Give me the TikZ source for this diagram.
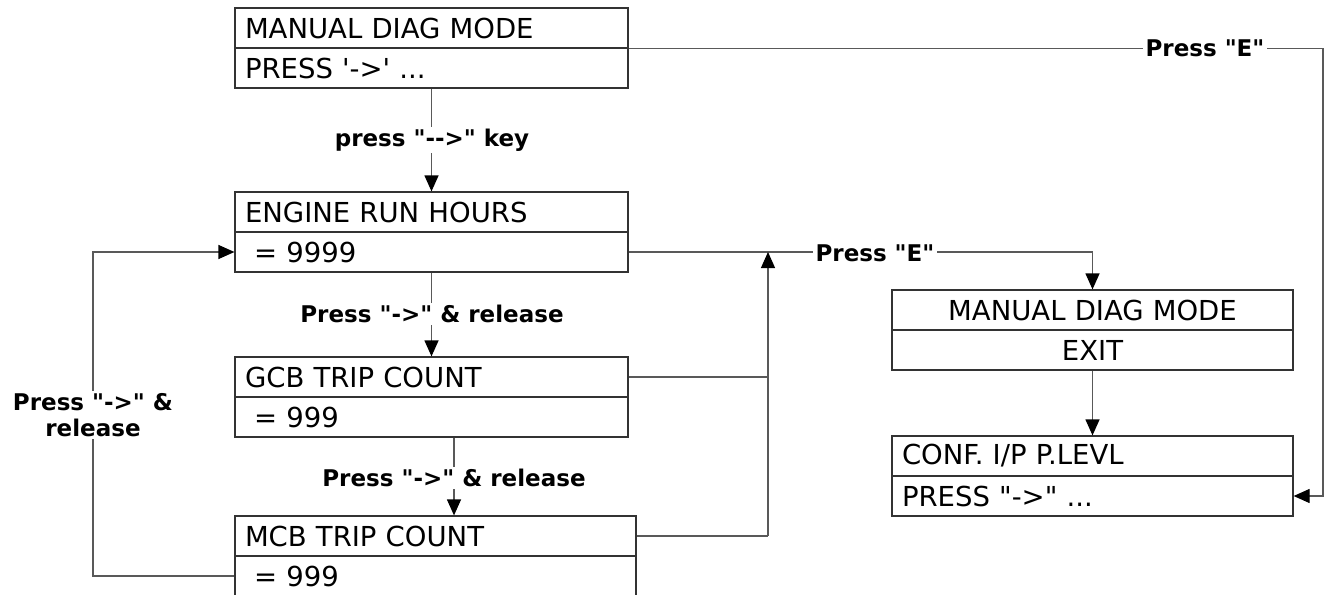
\documentclass[tikz,border=0pt]{standalone}
\usepackage{fontspec}
\newfontfamily\dv{DejaVu Sans}
\usetikzlibrary{arrows.meta}
\begin{document}
\begin{tikzpicture}[x=1pt,y=-1pt,
  row/.style={draw=black!80, line width=1.2pt, minimum height=40pt,
    inner ysep=0pt, inner xsep=10pt, text width=373pt, align=left,
    font=\dv\fontsize{27.5}{30}\selectfont},
  wide/.style={text width=381pt},
  mid/.style={align=center},
  lbl/.style={fill=white, inner xsep=3pt, inner ysep=2pt, align=center,
    font=\dv\bfseries\fontsize{23}{26}\selectfont},
  link/.style={draw=black!65, line width=1.2pt},
  arr/.style={link, -{Triangle[length=16pt,width=14pt,color=black]}}]

\useasboundingbox (0,0) rectangle (1327,594);
\clip (0,0) rectangle (1327,594);

% display boxes, two rows each
\node[row] (b1t) at (431.5,28) {MANUAL DIAG MODE};
\node[row] (b1b) at (431.5,68) {PRESS '->' ...};
\node[row] (b2t) at (431.5,212) {ENGINE RUN HOURS};
\node[row] (b2b) at (431.5,252) {\ = 9999};
\node[row] (b3t) at (431.5,377) {GCB TRIP COUNT};
\node[row] (b3b) at (431.5,417) {\ = 999};
\node[row,wide] (b4t) at (435.5,536) {MCB TRIP COUNT};
\node[row,wide] (b4b) at (435.5,576) {\ = 999};
\node[row,wide,mid] (b5t) at (1092.5,310) {MANUAL DIAG MODE};
\node[row,wide,mid] (b5b) at (1092.5,350) {EXIT};
\node[row,wide] (b6t) at (1092.5,456) {CONF. I/P P.LEVL};
\node[row,wide] (b6b) at (1092.5,496) {PRESS "->" ...};

% helper coordinates for line positions
\coordinate (c34) at (454,0);
\coordinate (cl) at (93,0);
\coordinate (bus) at (768,0);
\coordinate (rr) at (1323,0);

% main sequence
\draw[arr] (b1b.south) -- (b2t.north);
\draw[arr] (b2b.south) -- (b3t.north);
\draw[arr] (b3b.south -| c34) -- (b4t.north -| c34);
\draw[arr] (b5b.south) -- (b6t.north);

% loop back from the last counter
\draw[arr] (b4b.west) -- (b4b.west -| cl) -- (b2b.west -| cl) -- (b2b.west);

% exit paths
\draw[arr] (b2b.east) -- (b2b.east -| b5t.north) -- (b5t.north);
\draw[link] (b3t.east) -- (b3t.east -| bus);
\draw[link] (b4t.east) -- (b4t.east -| bus);
\draw[arr] (b4t.east -| bus) -- (b2b.east -| bus);
\draw[arr] (b1t.south east) -- (b1t.south east -| rr) -- (b6b.east -| rr) -- (b6b.east);

% labels
\node[lbl] (l1) at (432,140) {press "-->" key};
\node[lbl] (l2) at (432,314) {Press "->" \& release};
\node[lbl] (l3) at (454,478) {Press "->" \& release};
\node[lbl] (l4) at (93,415) {Press "->" \&\\release};
\node[lbl] (l5) at (875,253) {Press "E"};
\node[lbl] (l6) at (1205,48) {Press "E"};
\end{tikzpicture}
\end{document}
